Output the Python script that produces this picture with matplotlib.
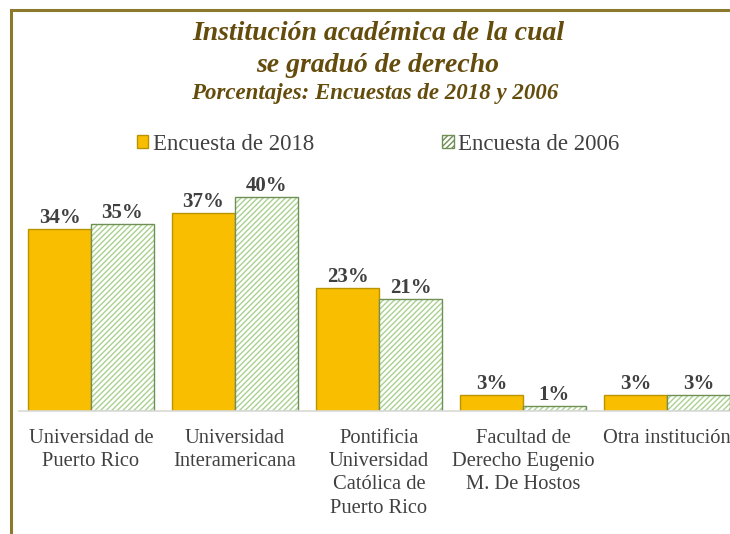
import numpy as np
import matplotlib.pyplot as plt
from matplotlib.patches import Patch
from matplotlib.lines import Line2D

# data
instituciones = ["Universidad de\nPuerto Rico", "Universidad\nInteramericana",
                 "Pontificia\nUniversidad\nCatólica de\nPuerto Rico",
                 "Facultad de\nDerecho Eugenio\nM. De Hostos", "Otra institución"]
encuesta_2018 = [34, 37, 23, 3, 3]
encuesta_2006 = [35, 40, 21, 1, 3]
series_names = ["Encuesta de 2018", "Encuesta de 2006"]

COLOR_2018 = "#F9BE00"
EDGE_2018 = "#B89400"
HATCH_2006 = "#A9D18E"
EDGE_2006 = "#6F8F55"
TITLE_COLOR = "#644C0C"
TEXT_COLOR = "#404040"
FRAME_COLOR = "#8B7A2E"

plt.rcParams['font.family'] = ['Liberation Serif', 'DejaVu Serif']
plt.rcParams['hatch.linewidth'] = 1.0

fig = plt.figure(figsize=(7.3, 5.34), dpi=100)
W, H = 730, 534

# axes: baseline at y=411 px, groups 144 px wide starting at x=19
ax = fig.add_axes([19 / W, 1 - 411 / H, 720 / W, 241 / H])

x = np.arange(len(instituciones))
bw = 63 / 144

ax.bar(x - bw / 2, encuesta_2018, width=bw, color=COLOR_2018,
       edgecolor=EDGE_2018, linewidth=1.0)
ax.bar(x + bw / 2, encuesta_2006, width=bw, color="white",
       edgecolor=HATCH_2006, hatch="//////", linewidth=0)
# outline of hatched bars drawn separately so hatch stays light green
ax.bar(x + bw / 2, encuesta_2006, width=bw, fill=False,
       edgecolor=EDGE_2006, linewidth=1.0)

for xs, vals in [(x - bw / 2, encuesta_2018), (x + bw / 2, encuesta_2006)]:
    for xi, v in zip(xs, vals):
        ax.annotate(f"{v}%", (xi, v), xytext=(0, 0.5), textcoords="offset points",
                    ha="center", va="bottom", fontsize=15,
                    fontweight="bold", color=TEXT_COLOR)

ax.set_xlim(-0.5, 4.5)
ax.set_ylim(0, 45)
ax.set_yticks([])
ax.set_xticks(x)
ax.set_xticklabels(instituciones, fontsize=14.8, color=TEXT_COLOR, linespacing=1.3)
ax.tick_params(axis="x", length=0, pad=13)
for s in ["top", "right", "left"]:
    ax.spines[s].set_visible(False)
ax.spines["bottom"].set_color("#D9D9D9")
ax.spines["bottom"].set_linewidth(1.2)
ax.patch.set_visible(False)

# titles
fig.text(378 / W, 1 - 34 / H, "Institución académica de la cual", ha="center",
         va="center", fontsize=20, fontweight="bold", style="italic", color=TITLE_COLOR)
fig.text(378 / W, 1 - 65 / H, "se graduó de derecho", ha="center",
         va="center", fontsize=20, fontweight="bold", style="italic", color=TITLE_COLOR)
fig.text(375 / W, 1 - 93 / H, "Porcentajes: Encuestas de 2018 y 2006", ha="center",
         va="center", fontsize=16.5, fontweight="bold", style="italic", color=TITLE_COLOR)

# legend
handles = [Patch(facecolor=COLOR_2018, edgecolor=EDGE_2018),
           Patch(facecolor="white", edgecolor=EDGE_2006, hatch="//////")]
fig.legend(handles, series_names, loc="center", bbox_to_anchor=(378 / W, 1 - 144 / H),
           ncol=2, frameon=False, fontsize=16.5, labelcolor=TEXT_COLOR,
           handlelength=0.5, handleheight=0.5, handletextpad=0.2, columnspacing=5.6)

# gold frame on top and left (chart cropped on the right)
fig.add_artist(Line2D([11 / W, 1.0], [1 - 10 / H, 1 - 10 / H], color=FRAME_COLOR,
                      linewidth=2.2, transform=fig.transFigure))
fig.add_artist(Line2D([11 / W, 11 / W], [0, 1 - 10 / H], color=FRAME_COLOR,
                      linewidth=2.2, transform=fig.transFigure))

fig.savefig("out.png", dpi=100)
